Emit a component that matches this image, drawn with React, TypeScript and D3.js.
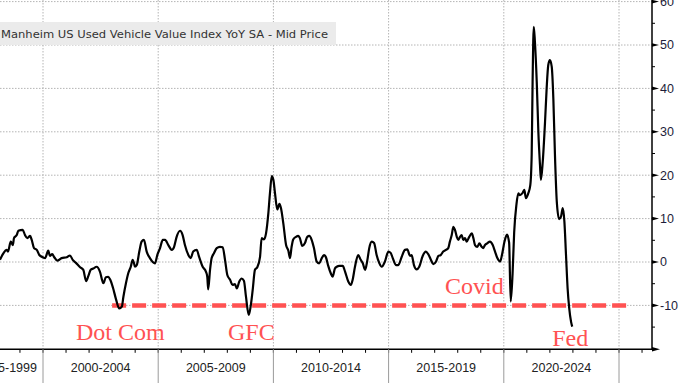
import React from "react";
import * as d3 from "d3";

const seriesName = "Manheim US Used Vehicle Value Index YoY SA - Mid Price";

const dates = [
  1998.13, 1998.28, 1998.42, 1998.48, 1998.6, 1998.69, 1998.74, 1998.86, 1998.93, 1999.12,
  1999.22, 1999.32, 1999.44, 1999.51, 1999.61, 1999.73, 1999.84, 1999.99, 2000.09, 2000.23,
  2000.3, 2000.4, 2000.49, 2000.62, 2000.81, 2001.03, 2001.17, 2001.29, 2001.43, 2001.61,
  2001.75, 2001.87, 2001.97, 2002.07, 2002.18, 2002.33, 2002.47, 2002.62, 2002.73, 2002.83,
  2002.91, 2003.04, 2003.17, 2003.31, 2003.42, 2003.49, 2003.6, 2003.7, 2003.81, 2003.89,
  2003.95, 2003.99, 2004.07, 2004.18, 2004.28, 2004.38, 2004.5, 2004.64, 2004.86, 2004.96,
  2005.08, 2005.2, 2005.3, 2005.44, 2005.59, 2005.69, 2005.8, 2005.95, 2006.06, 2006.16,
  2006.31, 2006.41, 2006.52, 2006.67, 2006.78, 2006.93, 2007.07, 2007.13, 2007.17, 2007.25,
  2007.32, 2007.42, 2007.54, 2007.68, 2007.8, 2007.9, 2008.0, 2008.12, 2008.23, 2008.33,
  2008.41, 2008.52, 2008.62, 2008.72, 2008.81, 2008.93, 2009.01, 2009.1, 2009.2, 2009.3,
  2009.42, 2009.49, 2009.59, 2009.68, 2009.78, 2009.85, 2009.93, 2010.0, 2010.07, 2010.17,
  2010.26, 2010.33, 2010.43, 2010.55, 2010.65, 2010.72, 2010.79, 2010.86, 2010.98, 2011.08,
  2011.15, 2011.25, 2011.37, 2011.47, 2011.56, 2011.66, 2011.76, 2011.88, 2011.99, 2012.1,
  2012.2, 2012.28, 2012.38, 2012.49, 2012.57, 2012.67, 2012.75, 2012.86, 2013.01, 2013.11,
  2013.25, 2013.36, 2013.44, 2013.54, 2013.68, 2013.79, 2013.88, 2013.98, 2014.08, 2014.16,
  2014.27, 2014.37, 2014.48, 2014.6, 2014.7, 2014.84, 2014.99, 2015.09, 2015.18, 2015.32,
  2015.42, 2015.57, 2015.71, 2015.81, 2015.93, 2016.0, 2016.1, 2016.22, 2016.33, 2016.48,
  2016.62, 2016.72, 2016.83, 2016.94, 2017.06, 2017.16, 2017.26, 2017.37, 2017.49, 2017.59,
  2017.66, 2017.74, 2017.81, 2017.88, 2017.96, 2018.03, 2018.1, 2018.17, 2018.24, 2018.32,
  2018.39, 2018.5, 2018.61, 2018.68, 2018.75, 2018.85, 2018.94, 2019.04, 2019.11, 2019.18,
  2019.28, 2019.4, 2019.52, 2019.62, 2019.72, 2019.84, 2019.92, 2020.03, 2020.14, 2020.23,
  2020.3, 2020.38, 2020.45, 2020.55, 2020.63, 2020.7, 2020.8, 2020.89, 2020.96, 2021.06,
  2021.15, 2021.21, 2021.25, 2021.3, 2021.35, 2021.43, 2021.5, 2021.57, 2021.61, 2021.69,
  2021.79, 2021.86, 2021.93, 2022.0, 2022.08, 2022.15, 2022.22, 2022.3, 2022.4, 2022.48,
  2022.56, 2022.63, 2022.7, 2022.77, 2022.84, 2022.92, 2022.97,
];

const values = [
  0.5, 2.0, 2.8, 2.4, 4.7, 3.9, 5.5, 6.2, 7.2, 7.4,
  6.2, 5.5, 6.0, 5.1, 3.2, 2.8, 1.6, 1.1, 0.9, 2.6,
  1.4, 1.8, 1.1, 0.3, 0.9, 1.1, 1.5, 0.5, -0.2, -1.2,
  -1.8, -4.4, -3.2, -1.8, -1.5, -1.1, -2.2, -4.9, -3.5, -3.4,
  -4.0, -6.0, -8.6, -10.7, -10.3, -8.0, -4.9, -2.6, -1.1, 0.5,
  -0.3, -1.1, -0.7, 2.4, 4.7, 5.1, 2.4, 0.9, -0.3, 1.6,
  3.2, 5.1, 5.1, 3.9, 2.8, 3.5, 5.8, 7.2, 6.2, 3.9,
  1.6, 0.9, 2.4, 2.8, 1.1, -1.1, -2.2, -3.4, -6.3, -1.8,
  0.9, 2.0, 3.2, 3.5, 3.4, 0.5, -3.0, -4.1, -5.3, -5.1,
  -6.1, -4.5, -3.8, -4.3, -8.0, -12.2, -10.3, -6.5, -1.8, -1.2,
  1.2, 5.5, 5.2, 6.6, 11.2, 15.8, 19.8, 18.9, 15.8, 12.1,
  13.4, 12.4, 8.9, 3.9, 2.6, 0.9, 3.5, 5.2, 5.8, 6.0,
  5.5, 3.7, 4.4, 5.8, 6.0, 5.1, 3.2, 0.1, -0.3, 0.9,
  1.6, 1.1, -0.9, -2.6, -3.4, -1.5, -1.1, -0.9, -0.9, -2.2,
  -4.5, -5.3, -4.1, -1.1, 1.6, 0.5, -0.3, -1.8, 0.5, 3.2,
  4.7, 4.4, 1.6, -0.3, -1.1, 0.1, 2.4, 2.1, 0.9, -0.7,
  -0.7, 1.2, 2.8, 2.9, 1.4, 1.6, -0.7, -1.7, -1.1, 1.4,
  2.4, 1.8, 0.6, -0.5, 0.1, 1.4, 1.6, 2.4, 2.8, 3.2,
  4.7, 6.2, 8.1, 7.4, 5.8, 5.1, 5.8, 6.2, 5.1, 5.5,
  4.7, 5.8, 6.6, 5.5, 3.9, 3.5, 4.3, 3.5, 3.2, 3.9,
  4.3, 4.7, 3.9, 2.4, 0.9, 0.1, 1.6, 4.7, 6.3, 4.5,
  -9.1, -2.8, 6.8, 13.3, 15.8, 15.4, 15.8, 16.6, 14.7, 15.8,
  17.7, 24.7, 41.5, 54.2, 50.8, 41.5, 30.0, 22.4, 18.9, 23.1,
  32.3, 40.0, 45.4, 46.5, 45.0, 37.7, 24.7, 13.9, 9.9, 10.4,
  12.4, 9.3, 1.6, -6.1, -10.7, -13.8, -14.9,
];

const yTicks = [-10, 0, 10, 20, 30, 40, 50, 60];
const yMinorTicks = [-15, -5, 5, 15, 25, 35, 45, 55];
const periodStarts = [1995, 2000, 2005, 2010, 2015, 2020];
const gridYears = [2000, 2005, 2010, 2015, 2020, 2025];
const chartStartYear = 1996.88;
const thresholdValue = -10;
const thresholdRange = [2003.0, 2025.35];

const annotations = [
  { label: "Dot Com", year: 2001.43, value: -17.9 },
  { label: "GFC", year: 2008.03, value: -17.9 },
  { label: "Covid", year: 2017.45, value: -7.4 },
  { label: "Fed", year: 2022.1, value: -19.3 },
];

export default function App() {
  const W = 680;
  const H = 383;
  const axisX = 652;
  const axisY = 349.3;
  const x = d3.scaleLinear().domain([2000, 2025]).range([43, 619]);
  const y = d3.scaleLinear().domain([-20, 60]).range([348.8, 1.6]);

  const pts = dates.map((d, i) => [d, values[i]] as [number, number]);
  const line = d3
    .line<[number, number]>()
    .x((d) => x(d[0]))
    .y((d) => y(d[1]))
    .curve(d3.curveMonotoneX);

  const yearTicks = d3.range(1997, 2027).filter((yr) => x(yr) >= 0 && x(yr) <= axisX);
  const gridColor = "#b4b4b4";
  const axisFont = "'Liberation Sans', Arial, sans-serif";
  const red = "#ff5252";

  return (
    <svg
      width={W}
      height={H}
      style={{ position: "fixed", left: 0, top: 0, background: "#fff" }}
    >
      <rect x={0} y={0} width={W} height={H} fill="#fff" />
      <defs>
        <clipPath id="plot">
          <rect x={0} y={0} width={axisX} height={axisY} />
        </clipPath>
      </defs>
      {yTicks.map((t) => (
        <line
          key={"hg" + t}
          x1={0}
          x2={axisX}
          y1={y(t)}
          y2={y(t)}
          stroke={gridColor}
          strokeWidth={1}
          strokeDasharray="1.5 1.5"
        />
      ))}
      {gridYears.map((yr) => (
        <line
          key={"vg" + yr}
          x1={x(yr)}
          x2={x(yr)}
          y1={0}
          y2={axisY}
          stroke={gridColor}
          strokeWidth={1}
          strokeDasharray="1.5 1.5"
        />
      ))}
      <rect x={0} y={22} width={336} height={23} fill="#ebebeb" />
      <text
        x={1}
        y={37.5}
        fontFamily="'DejaVu Sans', Verdana, sans-serif"
        fontSize={11}
        fill="#333"
        textLength={327}
        lengthAdjust="spacingAndGlyphs"
      >
        {seriesName}
      </text>
      <line
        x1={x(thresholdRange[0])}
        x2={x(thresholdRange[1])}
        y1={y(thresholdValue)}
        y2={y(thresholdValue)}
        stroke={red}
        strokeWidth={4.5}
        strokeDasharray="14 6"
      />
      <g clipPath="url(#plot)">
        <path
          d={line(pts) || ""}
          fill="none"
          stroke="#000"
          strokeWidth={2.2}
          strokeLinejoin="round"
        />
      </g>
      {annotations.map((a) => (
        <text
          key={a.label}
          x={x(a.year)}
          y={y(a.value)}
          fontFamily="'Liberation Serif', 'Times New Roman', serif"
          fontSize={24}
          fill={red}
        >
          {a.label}
        </text>
      ))}
      <line x1={axisX} x2={axisX} y1={0} y2={axisY} stroke="#000" strokeWidth={1.5} />
      {yTicks.map((t) => (
        <g key={"yt" + t}>
          <path
            d={`M${axisX},${y(t) - 1.8} L${axisX + 7},${y(t)} L${axisX},${y(t) + 1.8} Z`}
            fill="#000"
          />
          <text
            x={axisX + 8}
            y={y(t)}
            dy="0.35em"
            fontFamily={axisFont}
            fontSize={12.5}
            fill="#1d1d3a"
          >
            {t}
          </text>
        </g>
      ))}
      {yMinorTicks.map((t) => (
        <line
          key={"ym" + t}
          x1={axisX}
          x2={axisX + 3}
          y1={y(t)}
          y2={y(t)}
          stroke="#000"
          strokeWidth={1}
        />
      ))}
      <line x1={0} x2={axisX} y1={axisY} y2={axisY} stroke="#000" strokeWidth={1.5} />
      <path
        d={`M${axisX},${axisY - 2.2} L${axisX + 8},${axisY} L${axisX},${axisY + 2.2} Z`}
        fill="#000"
      />
      {yearTicks.map((yr) => (
        <line
          key={"xt" + yr}
          x1={x(yr)}
          x2={x(yr)}
          y1={axisY}
          y2={axisY + 3.5}
          stroke="#000"
          strokeWidth={1}
        />
      ))}
      {[...periodStarts, 2025].map((yr) => (
        <line
          key={"sep" + yr}
          x1={x(yr)}
          x2={x(yr)}
          y1={axisY}
          y2={H}
          stroke="#9a9a9a"
          strokeWidth={1}
        />
      ))}
      {periodStarts.map((s) => {
        const left = Math.max(x(s), x(chartStartYear));
        const cx = (left + x(s + 5)) / 2;
        return (
          <text
            key={"pl" + s}
            x={cx}
            y={372}
            textAnchor="middle"
            fontFamily={axisFont}
            fontSize={12.5}
            fill="#222"
          >
            {`${s}-${s + 4}`}
          </text>
        );
      })}
    </svg>
  );
}
